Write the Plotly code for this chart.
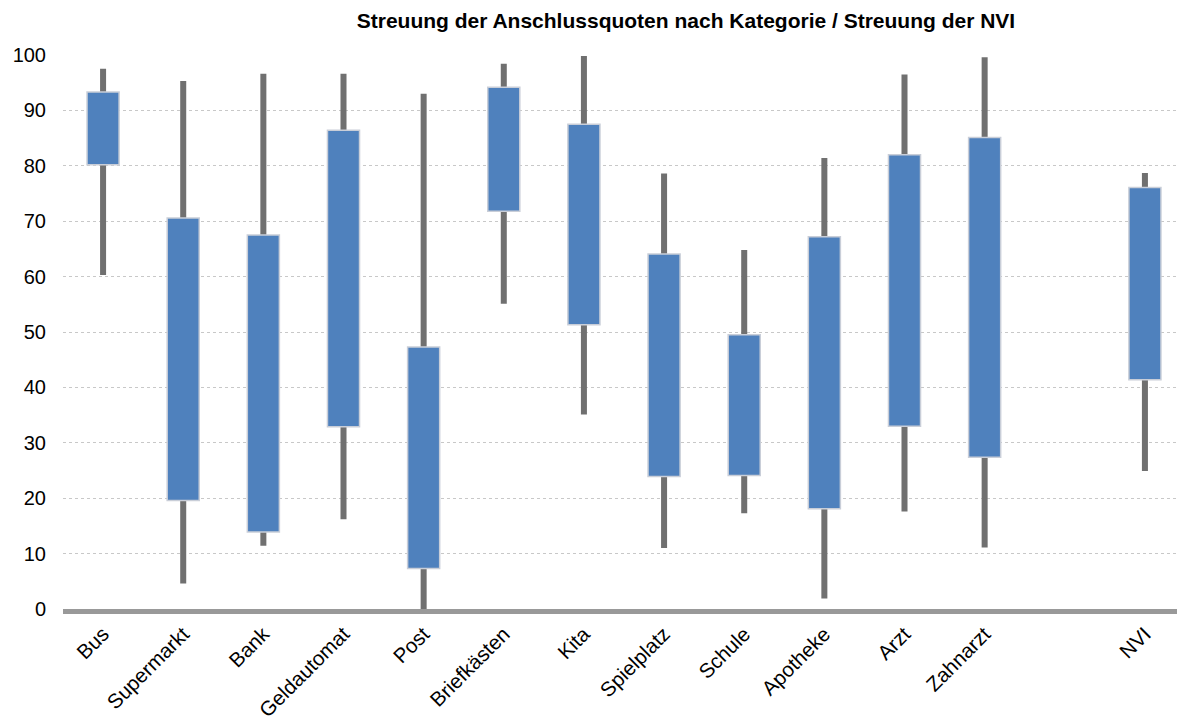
import plotly.graph_objects as go

categories = ["Bus", "Supermarkt", "Bank", "Geldautomat", "Post", "Briefkästen", "Kita",
              "Spielplatz", "Schule", "Apotheke", "Arzt", "Zahnarzt", "NVI"]
axis_order = categories[:12] + [" "] + ["NVI"]

whisker_low = [60.3, 4.6, 11.4, 16.2, 0.0, 55.1, 35.1, 11.0, 17.3, 1.9, 17.6, 11.1, 24.9]
box_low     = [80.2, 19.6, 13.9, 32.9, 7.3, 71.8, 51.3, 23.9, 24.1, 18.1, 33.0, 27.4, 41.4]
box_high    = [93.3, 70.6, 67.5, 86.4, 47.3, 94.2, 87.5, 64.1, 49.5, 67.2, 82.0, 85.1, 76.1]
whisker_high = [97.5, 95.3, 96.6, 96.6, 93.0, 98.4, 99.8, 78.6, 64.8, 81.4, 96.5, 99.6, 78.7]

fig = go.Figure()

fig.add_trace(go.Bar(
    x=categories,
    y=[h - l for h, l in zip(whisker_high, whisker_low)],
    base=whisker_low,
    width=0.075,
    marker=dict(color="#707070", line=dict(width=0)),
    hoverinfo="skip",
    showlegend=False,
))

fig.add_trace(go.Bar(
    x=categories,
    y=[h - l for h, l in zip(box_high, box_low)],
    base=box_low,
    width=0.4,
    marker=dict(color="#4F81BD", line=dict(color="#C9CED8", width=1.5)),
    showlegend=False,
))

fig.update_layout(
    width=1177, height=712,
    barmode="overlay",
    plot_bgcolor="white", paper_bgcolor="white",
    margin=dict(l=55, r=0, t=47, b=111, autoexpand=False),
    font=dict(family="Arial, Liberation Sans, sans-serif", color="#000000"),
    title=dict(
        text="<b>Streuung der Anschlussquoten nach Kategorie / Streuung der NVI</b>",
        x=0.576, xanchor="center", y=0.982, yanchor="middle",
        font=dict(size=21, color="#000000"),
    ),
    xaxis=dict(
        type="category", categoryorder="array", categoryarray=axis_order,
        range=[-0.5, 13.5],
        showgrid=False, automargin=False,
        showline=True, linecolor="#999999", linewidth=5,
        ticks="", tickangle=-45, tickfont=dict(size=20.5),
    ),
    yaxis=dict(
        range=[0, 100], tickvals=list(range(0, 101, 10)),
        showgrid=True, gridcolor="#C8C8C8", griddash="dot", gridwidth=1,
        zeroline=False, showline=False, ticks="", automargin=False,
        tickfont=dict(size=20), ticklabelstandoff=16,
    ),
)

fig.write_html("out.html")
